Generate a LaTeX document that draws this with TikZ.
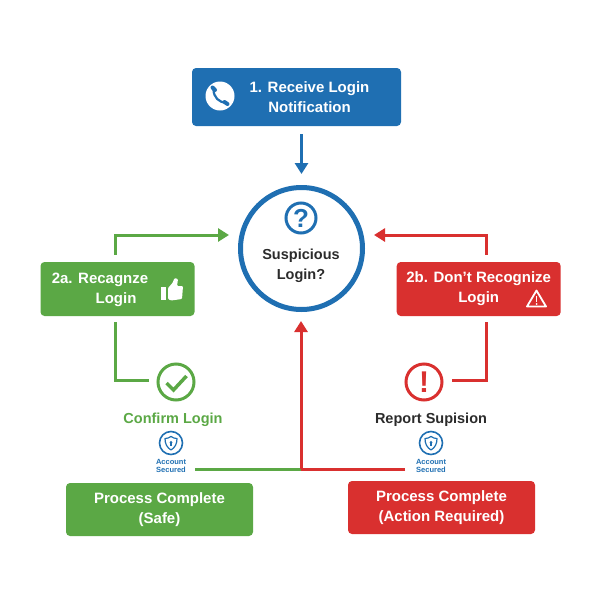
\documentclass[tikz,border=0pt]{standalone}
\usepackage{fontspec}
\setmainfont{Liberation Sans}
\usetikzlibrary{arrows.meta}
\definecolor{flowblue}{HTML}{1F6FB2}
\definecolor{flowgreen}{HTML}{5BA845}
\definecolor{flowred}{HTML}{D9302F}
\definecolor{flowdark}{HTML}{2B2B2B}
\tikzset{
  flowbox/.style={rounded corners=4pt,inner sep=0pt,text=white,align=center,
    font=\fontsize{15}{20}\selectfont\bfseries},
  boxtext/.style={text=white,align=center,inner sep=0pt,
    font=\fontsize{15}{20}\selectfont\bfseries},
  flowline/.style={line width=3pt},
  flowtip/.style={-{Triangle[width=13pt,length=11pt]}},
  steplabel/.style={inner sep=0pt,font=\fontsize{14.5}{18}\selectfont\bfseries},
  ringnode/.style={circle,draw,line width=3pt,minimum size=36pt,inner sep=0pt,font=\fontsize{30}{30}\selectfont\bfseries},
  securedtext/.style={text=flowblue,align=center,inner sep=0pt,
    font=\fontsize{7.5}{8}\selectfont\bfseries},
  shieldring/.style={circle,draw=flowblue,line width=1.6pt,minimum size=23pt,inner sep=0pt},
  shieldicon/.pic={
    \draw[flowblue,line width=1.2pt,line join=round] (0,-6.5) .. controls (2,-5) and (4,-4.5) .. (6,-4.5)
      .. controls (6,1) and (4,4.5) .. (0,7) .. controls (-4,4.5) and (-6,1) .. (-6,-4.5)
      .. controls (-4,-4.5) and (-2,-5) .. (0,-6.5) -- cycle;
    \fill[flowblue] (0,-0.6) circle (1.5);
    \fill[flowblue] (-0.8,-0.6) rectangle (0.8,3);
  },
}
\begin{document}
\begin{tikzpicture}[x=1pt,y=-1pt]
  \useasboundingbox (0,0) rectangle (600,600);
  % centre
  \node[circle,draw=flowblue,line width=5pt,minimum size=122pt,inner sep=0pt] (susp) at (301.5,248.5) {};
  \node[circle,draw=flowblue,line width=3pt,minimum size=30pt,inner sep=0pt,text=flowblue,
    font=\fontsize{26}{26}\selectfont\bfseries] (askring) at (301,218) {?};
  \node[inner sep=0pt,align=center,text=flowdark,font=\fontsize{14.5}{20}\selectfont\bfseries] (susptext) at (301,265.5) {Suspicious\\Login?};
  % top box
  \node[flowbox,fill=flowblue,minimum width=209pt,minimum height=58pt] (notice) at (296.5,97) {};
  \node[boxtext] (noticetext) at (309.5,97) {1. Receive Login\\Notification};
  \node[circle,fill=white,minimum size=29pt,inner sep=0pt] (phone) at (220,96) {};
  \draw[flowblue,line width=2.2pt] (213.5,89.5) .. controls (213.5,97) and (219,103) .. (226.5,102.5);
  \draw[flowblue,line width=4pt,line cap=round] (212.5,87.5) -- (215,90);
  \draw[flowblue,line width=4pt,line cap=round] (224.5,102) -- (227.5,104);
  % left and right boxes
  \node[flowbox,fill=flowgreen,minimum width=154pt,minimum height=54pt] (recog) at (117.5,289) {};
  \node[boxtext] (recogtop) at (100,280) {2a. Recagnze};
  \node[boxtext] (recoglow) at (116,300) {Login};
  \fill[white] (161,287) rectangle (166,300);
  \fill[white,rounded corners=1pt] (168,288) -- (172.5,283) -- (174.5,278) -- (178,279) -- (177,286) -- (183,286) -- (182,299) -- (171,300.5) -- (168,299) -- cycle;
  \node[flowbox,fill=flowred,minimum width=164pt,minimum height=54pt] (notrecog) at (478.7,289) {2b. Don’t Recognize\\Login};
  \draw[white,line width=1.8pt,line join=round] (536.5,290.5) -- (546,306.5) -- (527,306.5) -- cycle;
  \draw[white,line width=1.8pt] (536.5,295.5) -- (536.5,301.5);
  \fill[white] (536.5,304) circle (1);
  % outcome rings
  \node[ringnode,draw=flowgreen] (okring) at (176,382) {};
  \draw[flowgreen,line width=3.5pt] (166.5,383) -- (173.5,390) -- (186.5,376);
  \node[ringnode,draw=flowred,text=flowred] (badring) at (424,382) {!};
  \node[steplabel,text=flowgreen] (confirm) at (173,420) {Confirm Login};
  \node[steplabel,text=flowdark] (report) at (431,420) {Report Supision};
  % shields
  \node[shieldring] (shieldl) at (171,443) {};
  \node[shieldring] (shieldr) at (431,443) {};
  \pic at (shieldl) {shieldicon};
  \pic at (shieldr) {shieldicon};
  \node[securedtext] (securedl) at (171,465.5) {Account\\Secured};
  \node[securedtext] (securedr) at (431,465.5) {Account\\Secured};
  % bottom boxes
  \node[flowbox,fill=flowgreen,minimum width=187pt,minimum height=53pt] (safe) at (159.5,509.5) {Process Complete\\(Safe)};
  \node[flowbox,fill=flowred,minimum width=187pt,minimum height=53pt] (action) at (441.5,507.5) {Process Complete\\(Action Required)};
  % connectors
  \coordinate (gtop) at (115.5,235);
  \coordinate (gbot) at (115.5,380);
  \coordinate (rtop) at (486.5,235);
  \coordinate (rbot) at (486.5,380);
  \coordinate (merge) at (301,469);
  \coordinate (gfoot) at (195,469);
  \coordinate (rfoot) at (405,469);
  \draw[flowline,flowblue,flowtip,shorten <=8pt,shorten >=11pt] (notice.south -| susp) -- (susp.north);
  \draw[flowline,flowgreen,flowtip,shorten <=7pt,shorten >=9pt] (recog.north -| gtop) -- (gtop) -- (gtop -| susp.west);
  \draw[flowline,flowred,flowtip,shorten <=7pt,shorten >=9pt] (notrecog.north -| rtop) -- (rtop) -- (rtop -| susp.east);
  \draw[flowline,flowgreen,shorten <=6pt,shorten >=8pt] (recog.south -| gbot) -- (gbot) -- (gbot -| okring.west);
  \draw[flowline,flowred,shorten <=6pt,shorten >=8pt] (notrecog.south -| rbot) -- (rbot) -- (rbot -| badring.east);
  \draw[flowline,flowgreen] (gfoot) -- (merge);
  \draw[flowline,flowred] (rfoot) -- (merge);
  \draw[flowline,flowred,flowtip,shorten >=9pt] (merge) -- (susp.south -| merge);
\end{tikzpicture}
\end{document}
